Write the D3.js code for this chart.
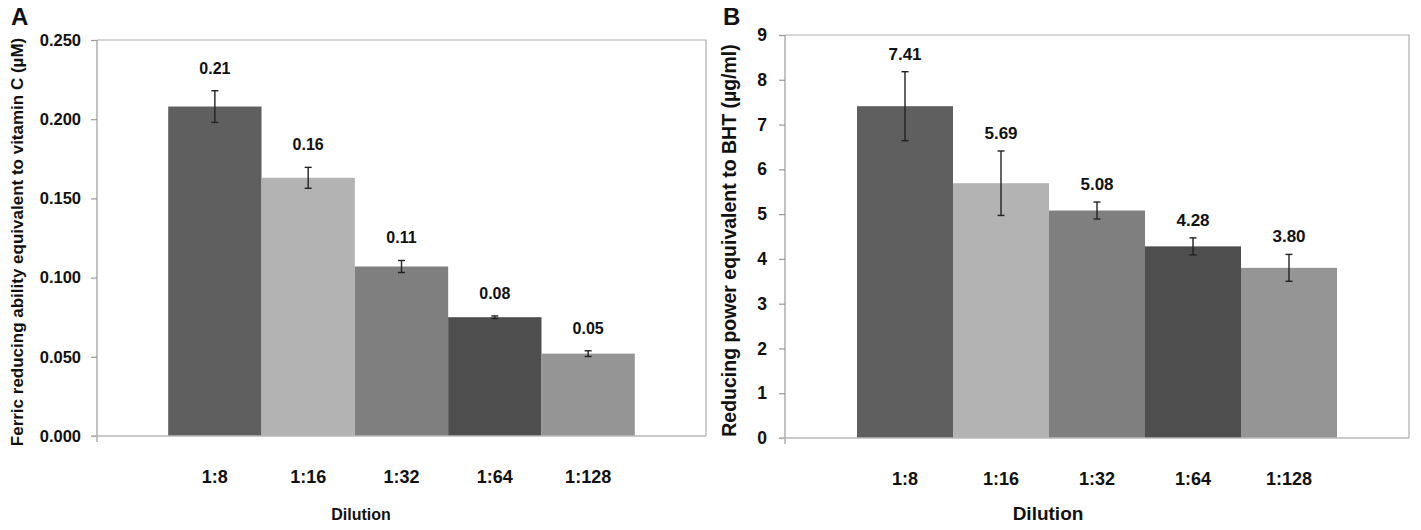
<!DOCTYPE html>
<html>
<head>
<meta charset="utf-8">
<script src="https://cdn.jsdelivr.net/npm/d3@7/dist/d3.min.js"></script>
<style>
  html, body { margin: 0; padding: 0; background: #fff; }
  svg { display: block; font-family: "Liberation Sans", Arial, sans-serif; font-weight: bold; }
</style>
</head>
<body>
<svg id="chart" width="1421" height="530"></svg>
<script>
// ---- data ----
const categories = ["1:8", "1:16", "1:32", "1:64", "1:128"];
const barColors = ["#5f5f5f", "#b3b3b3", "#7f7f7f", "#4e4e4e", "#959595"];

const ferricValues = [0.208, 0.163, 0.107, 0.075, 0.052];
const ferricErrors = [0.010, 0.0066, 0.0038, 0.0008, 0.0018];
const ferricLabels = ["0.21", "0.16", "0.11", "0.08", "0.05"];
const ferricTicks = [0, 0.05, 0.10, 0.15, 0.20, 0.25];

const reducingValues = [7.41, 5.69, 5.08, 4.28, 3.80];
const reducingErrors = [0.77, 0.72, 0.19, 0.19, 0.30];
const reducingLabels = ["7.41", "5.69", "5.08", "4.28", "3.80"];
const reducingTicks = [0, 1, 2, 3, 4, 5, 6, 7, 8, 9];

const svg = d3.select("#chart");

const panels = [
  {
    letter: "A", letterX: 11,
    values: ferricValues, errors: ferricErrors, labels: ferricLabels,
    ticks: ferricTicks, tickFmt: d3.format(".3f"), domain: [0, 0.25],
    left: 97, right: 706, top: 40, bottom: 436, padOuter: 0.763,
    tickFont: 16.5, tickPad: 10, valueFont: 16, labelGap: 17,
    yTitle: "Ferric reducing ability equivalent to vitamin C (\u00b5M)",
    yTitleX: 17, yTitleFont: 17,
    xTitleX: 361, xTitleFont: 16
  },
  {
    letter: "B", letterX: 723,
    values: reducingValues, errors: reducingErrors, labels: reducingLabels,
    ticks: reducingTicks, tickFmt: d3.format("d"), domain: [0, 9],
    left: 785, right: 1409, top: 35, bottom: 438, padOuter: 0.75,
    tickFont: 17.5, tickPad: 12, valueFont: 17, labelGap: 12,
    yTitle: "Reducing power equivalent to BHT (\u00b5g/ml)",
    yTitleX: 729, yTitleFont: 19.5,
    xTitleX: 1048, xTitleFont: 19
  }
];

panels.forEach(p => {
  const g = svg.append("g");
  const x = d3.scaleBand().domain(categories).range([p.left, p.right])
    .paddingInner(0).paddingOuter(p.padOuter);
  const y = d3.scaleLinear().domain(p.domain).range([p.bottom, p.top]);

  // plot border (top & right)
  g.append("path")
    .attr("d", `M${p.left},${p.top}H${p.right}V${p.bottom}`)
    .attr("fill", "none").attr("stroke", "#b0b0b0").attr("stroke-width", 1.2);

  // bars
  g.selectAll("rect.bar").data(categories).join("rect")
    .attr("x", d => x(d))
    .attr("width", x.bandwidth())
    .attr("y", (d, i) => y(p.values[i]))
    .attr("height", (d, i) => y(0) - y(p.values[i]))
    .attr("fill", (d, i) => barColors[i]);

  // y axis
  const yAxis = d3.axisLeft(y).tickValues(p.ticks).tickFormat(p.tickFmt)
    .tickSize(6).tickPadding(p.tickPad);
  const ya = g.append("g").attr("transform", `translate(${p.left},0)`).call(yAxis);
  ya.select(".domain").attr("stroke", "#9a9a9a").attr("stroke-width", 1.2)
    .attr("d", `M0,${p.top}V${p.bottom + 6}`);
  ya.selectAll(".tick line").attr("stroke", "#9a9a9a").attr("stroke-width", 1.2);
  ya.selectAll(".tick text").attr("fill", "#111").attr("font-size", p.tickFont)
    .attr("font-weight", "bold").attr("font-family", "Liberation Sans, Arial, sans-serif");

  // x axis
  const xAxis = d3.axisBottom(x).tickSize(0).tickPadding(0);
  const xa = g.append("g").attr("transform", `translate(0,${p.bottom})`).call(xAxis);
  xa.select(".domain").attr("stroke", "#b8b8b8").attr("stroke-width", 1.6)
    .attr("d", `M${p.left - 6},0H${p.right}`);
  xa.selectAll(".tick text").attr("fill", "#111").attr("font-size", 18)
    .attr("font-weight", "bold").attr("font-family", "Liberation Sans, Arial, sans-serif")
    .attr("dy", 0).attr("y", 47);

  // error bars
  const cap = 3.5;
  const eb = g.selectAll("g.err").data(categories).join("g")
    .attr("stroke", "#222").attr("stroke-width", 1.4);
  eb.append("line")
    .attr("x1", d => x(d) + x.bandwidth() / 2).attr("x2", d => x(d) + x.bandwidth() / 2)
    .attr("y1", (d, i) => y(p.values[i] + p.errors[i]))
    .attr("y2", (d, i) => y(p.values[i] - p.errors[i]));
  eb.append("line")
    .attr("x1", d => x(d) + x.bandwidth() / 2 - cap).attr("x2", d => x(d) + x.bandwidth() / 2 + cap)
    .attr("y1", (d, i) => y(p.values[i] + p.errors[i]))
    .attr("y2", (d, i) => y(p.values[i] + p.errors[i]));
  eb.append("line")
    .attr("x1", d => x(d) + x.bandwidth() / 2 - cap).attr("x2", d => x(d) + x.bandwidth() / 2 + cap)
    .attr("y1", (d, i) => y(p.values[i] - p.errors[i]))
    .attr("y2", (d, i) => y(p.values[i] - p.errors[i]));

  // value labels
  g.selectAll("text.val").data(categories).join("text")
    .attr("x", d => x(d) + x.bandwidth() / 2)
    .attr("y", (d, i) => y(p.values[i] + p.errors[i]) - p.labelGap)
    .attr("text-anchor", "middle").attr("font-size", p.valueFont).attr("fill", "#111")
    .text((d, i) => p.labels[i]);

  // y title
  g.append("text")
    .attr("transform", `translate(${p.yTitleX},${(p.top + p.bottom) / 2 + 4}) rotate(-90)`)
    .attr("text-anchor", "middle").attr("dy", "0.35em")
    .attr("font-size", p.yTitleFont).attr("fill", "#111")
    .text(p.yTitle);

  // x title
  g.append("text")
    .attr("x", p.xTitleX).attr("y", 520)
    .attr("text-anchor", "middle").attr("font-size", p.xTitleFont).attr("fill", "#111")
    .text("Dilution");

  // panel letter
  g.append("text")
    .attr("x", p.letterX).attr("y", 25)
    .attr("font-size", 24).attr("fill", "#111")
    .text(p.letter);
});
</script>
</body>
</html>
